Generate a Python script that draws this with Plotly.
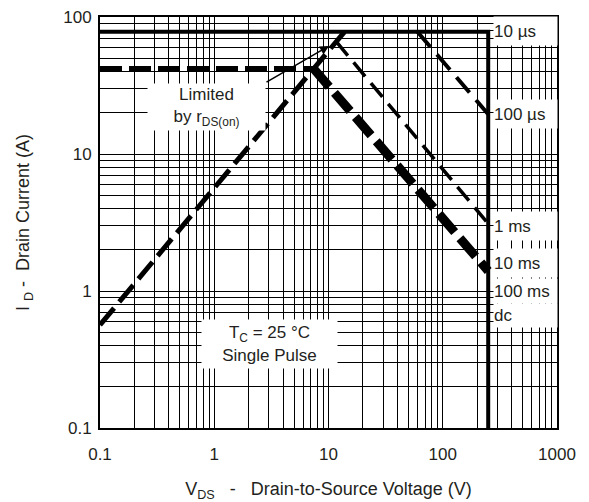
import plotly.graph_objects as go

# ---- data ----
x_tick_labels = ["0.1", "1", "10", "100", "1000"]
y_tick_labels = ["0.1", "1", "10", "100"]
x_decades = [0.1, 1, 10, 100, 1000]
y_decades = [0.1, 1, 10, 100]

# current limit (dashed horizontal) and rDS(on) limit (dashed rising)
limit_h_x = [0.1, 7.4]
limit_h_y = [42, 42]
rds_x = [0.1, 13.8]
rds_y = [0.565, 78]

# solid boundary: max pulsed current and breakdown voltage
bound_x = [0.1, 250, 250]
bound_y = [78, 78, 0.1]

# pulse-width lines
p100us_x = [60, 250]
p100us_y = [78, 19.5]
p1ms_x = [11.7, 250]
p1ms_y = [66, 3.1]
p10ms_x = [7.4, 250]
p10ms_y = [42, 1.4]

labels_right = ["10 µs", "100 µs", "1 ms", "10 ms", "100 ms", "dc"]

FONT = "Liberation Sans, Arial, sans-serif"
TXT = "#231f20"
NB = "\u00a0"

# the page body adds an 8px margin; work in reference pixels and shift
OFF = 8
W, H = 589 - OFF, 502 - OFF
L, R, T, B = 100 - OFF, 557 - OFF, 17 - OFF, 428 - OFF


def px_x(p):
    return (p - OFF - L) / (R - L)


def px_y(p):
    return (B - (p - OFF)) / (B - T)


fig = go.Figure()


def add_line(x, y, width, dash="solid"):
    fig.add_trace(go.Scatter(x=x, y=y, mode="lines",
                             line=dict(color="black", width=width, dash=dash),
                             hoverinfo="skip", showlegend=False))


add_line(bound_x, bound_y, 4)
add_line(limit_h_x, limit_h_y, 5, "22px,7px")
add_line(rds_x, rds_y, 5, "22px,8px")
add_line(p100us_x, p100us_y, 4, "20px,10px")
add_line(p1ms_x, p1ms_y, 3.5, "18px,9px")
add_line(p10ms_x, p10ms_y, 9, "24px,8px")

# grid values (1..9 per decade)
xg = [m * 10.0 ** e for e in range(-1, 3) for m in range(1, 10)] + [1000]
yg = [m * 10.0 ** e for e in range(-1, 2) for m in range(1, 10)] + [100]
xt = [x_tick_labels[x_decades.index(v)] if v in x_decades else "" for v in [round(v, 6) for v in xg]]
yt = [y_tick_labels[y_decades.index(v)] if v in y_decades else "" for v in [round(v, 6) for v in yg]]

axis_common = dict(type="log", showgrid=True, gridcolor="black", gridwidth=1.2,
                   showline=True, mirror=True, linecolor="black", linewidth=2,
                   ticks="", zeroline=False, automargin=False,
                   ticklabeloverflow="allow",
                   tickfont=dict(family=FONT, size=17, color=TXT))

fig.update_xaxes(range=[-1, 3], tickvals=xg, ticktext=xt, ticklabelstandoff=10,
                 title=dict(text="V<sub>DS</sub>" + NB * 3 + "-" + NB * 3 + "Drain-to-Source Voltage (V)",
                            font=dict(family=FONT, size=18, color=TXT), standoff=20),
                 **axis_common)
fig.update_yaxes(range=[-1, 2], tickvals=yg, ticktext=yt, ticklabelstandoff=3,
                 title=dict(text="I" + NB + "<sub>D</sub>" + NB + "-" + NB * 2 + "Drain Current (A)",
                            font=dict(family=FONT, size=18, color=TXT), standoff=29),
                 **axis_common)

ann = []
# Limited by rDS(on) box
ann.append(dict(xref="paper", yref="paper", x=px_x(206.5), y=px_y(107),
                xanchor="center", yanchor="middle",
                text="Limited<br>by r<sub>DS(on)</sub>", showarrow=False,
                bgcolor="white", width=117, height=46, borderpad=0,
                font=dict(family=FONT, size=17, color=TXT)))
# arrow
ann.append(dict(xref="paper", yref="paper", x=px_x(329), y=px_y(46),
                ax=265 - 329, ay=83 - 46, axref="pixel", ayref="pixel",
                text="", showarrow=True, arrowhead=2, arrowsize=1.2,
                arrowwidth=1.5, arrowcolor="black"))
# Tc box
ann.append(dict(xref="paper", yref="paper", x=px_x(269.5), y=px_y(344),
                xanchor="center", yanchor="middle",
                text="T<sub>C</sub> = 25 °C<br>Single Pulse", showarrow=False,
                bgcolor="white", width=135, height=48, borderpad=0,
                font=dict(family=FONT, size=17, color=TXT)))
# right labels
boxes = [(17, 45), (100, 128), (212, 240), (249, 277), (279, 303), (304, 327)]
for lab, (y0, y1) in zip(labels_right, boxes):
    ann.append(dict(xref="paper", yref="paper", x=px_x(493), y=px_y((y0 + y1) / 2),
                    xanchor="left", yanchor="middle", align="left",
                    text=lab, showarrow=False, bgcolor="white",
                    width=63, height=y1 - y0, borderpad=0,
                    font=dict(family=FONT, size=17, color=TXT)))

fig.update_layout(width=W, height=H, margin=dict(l=L, r=W - R, t=T, b=H - B),
                  plot_bgcolor="white", paper_bgcolor="white",
                  hovermode=False, showlegend=False, annotations=ann,
                  font=dict(family=FONT, color=TXT))

fig.write_html("out.html")
